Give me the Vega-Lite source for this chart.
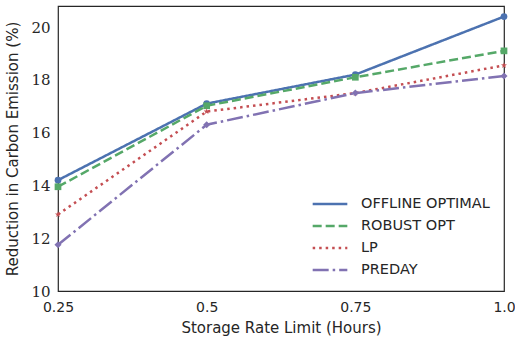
{
  "$schema": "https://vega.github.io/schema/vega-lite/v6.json",
  "width": 446,
  "height": 285,
  "autosize": {"type": "none"},
  "padding": {"left": 58, "top": 6, "right": 11, "bottom": 55},
  "background": "white",
  "config": {
    "view": {"stroke": "#262626", "strokeWidth": 1.2},
    "axis": {"grid": false, "ticks": false, "domain": false, "labelColor": "#262626", "titleColor": "#262626", "titleFont": "DejaVu Sans", "titleFontWeight": "normal", "titleFontSize": 15}
  },
  "data": {
    "values": [
      {"x": 0.25, "y": 14.2, "s": "OFFLINE OPTIMAL"},
      {"x": 0.5, "y": 17.1, "s": "OFFLINE OPTIMAL"},
      {"x": 0.75, "y": 18.2, "s": "OFFLINE OPTIMAL"},
      {"x": 1.0, "y": 20.4, "s": "OFFLINE OPTIMAL"},
      {"x": 0.25, "y": 13.95, "s": "ROBUST OPT"},
      {"x": 0.5, "y": 17.02, "s": "ROBUST OPT"},
      {"x": 0.75, "y": 18.1, "s": "ROBUST OPT"},
      {"x": 1.0, "y": 19.1, "s": "ROBUST OPT"},
      {"x": 0.25, "y": 12.9, "s": "LP"},
      {"x": 0.5, "y": 16.8, "s": "LP"},
      {"x": 0.75, "y": 17.5, "s": "LP"},
      {"x": 1.0, "y": 18.55, "s": "LP"},
      {"x": 0.25, "y": 11.75, "s": "PREDAY"},
      {"x": 0.5, "y": 16.3, "s": "PREDAY"},
      {"x": 0.75, "y": 17.5, "s": "PREDAY"},
      {"x": 1.0, "y": 18.15, "s": "PREDAY"}
    ]
  },
  "encoding": {
    "x": {"field": "x", "type": "quantitative", "scale": {"domain": [0.25, 1.0], "nice": false, "zero": false},
      "axis": {"values": [0.25, 0.5, 0.75, 1.0], "labelExpr": "datum.value == 1 ? '1.0' : format(datum.value, '.2~f')", "labelFont": "DejaVu Sans", "labelFontSize": 14, "labelFlush": false, "labelPadding": 9, "title": "Storage Rate Limit (Hours)", "titlePadding": 6}},
    "y": {"field": "y", "type": "quantitative", "scale": {"domain": [10, 20.8], "nice": false, "zero": false},
      "axis": {"values": [10, 12, 14, 16, 18, 20], "labelFont": "DejaVu Serif", "labelFontSize": 15, "labelPadding": 8, "title": "Reduction in Carbon Emission (%)", "titlePadding": 10}}
  },
  "layer": [
    {
      "mark": {"type": "line", "strokeWidth": 2.5},
      "encoding": {
        "color": {"field": "s", "type": "nominal", "sort": ["OFFLINE OPTIMAL", "ROBUST OPT", "LP", "PREDAY"],
          "scale": {"domain": ["OFFLINE OPTIMAL", "ROBUST OPT", "LP", "PREDAY"], "range": ["#4C72B0", "#55A868", "#C44E52", "#8172B2"]},
          "legend": {"title": null, "orient": "bottom-right", "offset": 14, "symbolType": "M-2,0H2", "symbolSize": 300, "symbolStrokeWidth": 2.5, "symbolFillColor": "transparent", "labelFont": "DejaVu Sans", "labelFontSize": 14.5, "labelColor": "#262626", "rowPadding": 5, "labelOffset": 21}},
        "strokeDash": {"field": "s", "type": "nominal", "sort": ["OFFLINE OPTIMAL", "ROBUST OPT", "LP", "PREDAY"],
          "scale": {"domain": ["OFFLINE OPTIMAL", "ROBUST OPT", "LP", "PREDAY"], "range": [[1, 0], [9, 4], [2.5, 4], [16, 4, 2.5, 4]]},
          "legend": {"title": null, "orient": "bottom-right", "offset": 14, "symbolType": "M-2,0H2", "symbolSize": 300, "symbolStrokeWidth": 2.5, "symbolFillColor": "transparent", "labelFont": "DejaVu Sans", "labelFontSize": 14.5, "labelColor": "#262626", "rowPadding": 5, "labelOffset": 21}}
      }
    },
    {
      "transform": [{"filter": "datum.s == 'OFFLINE OPTIMAL'"}],
      "mark": {"type": "point", "filled": true, "size": 45, "opacity": 1, "shape": "circle", "color": "#4C72B0"}
    },
    {
      "transform": [{"filter": "datum.s == 'ROBUST OPT'"}],
      "mark": {"type": "point", "filled": true, "size": 45, "opacity": 1, "shape": "square", "color": "#55A868"}
    },
    {
      "transform": [{"filter": "datum.s == 'LP'"}],
      "mark": {"type": "point", "filled": true, "size": 40, "opacity": 1, "shape": "M0,-1L0.24,-0.33L0.95,-0.31L0.39,0.13L0.59,0.81L0,0.4L-0.59,0.81L-0.39,0.13L-0.95,-0.31L-0.24,-0.33Z", "color": "#C44E52"}
    },
    {
      "transform": [{"filter": "datum.s == 'PREDAY'"}],
      "mark": {"type": "point", "filled": true, "size": 50, "opacity": 1, "shape": "diamond", "color": "#8172B2"}
    }
  ]
}
